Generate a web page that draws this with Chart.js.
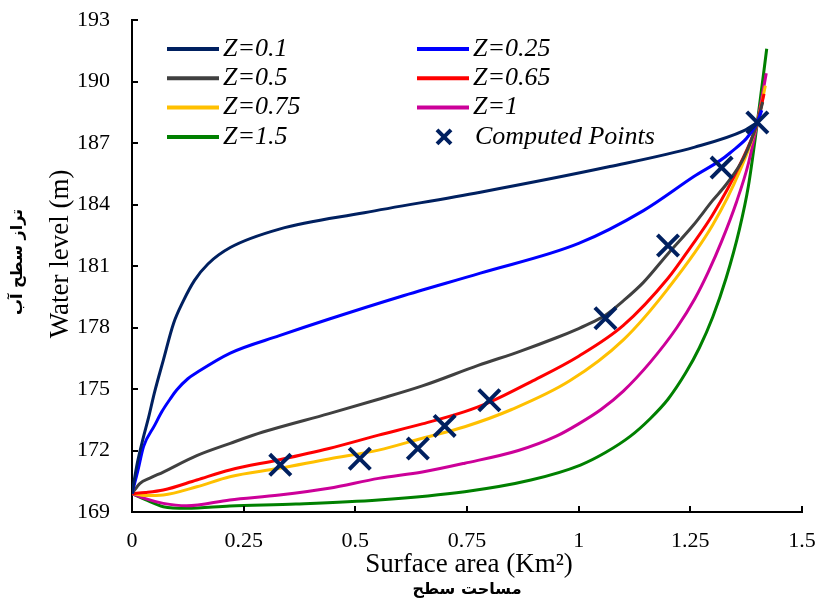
<!DOCTYPE html>
<html>
<head>
<meta charset="utf-8">
<script src="https://cdn.jsdelivr.net/npm/chart.js@4.4.0/dist/chart.umd.min.js"></script>
<style>
  html, body { margin: 0; padding: 0; background: #fff; }
  #wrap { width: 821px; height: 601px; position: relative; }
</style>
</head>
<body>
<div id="wrap"><canvas id="chart"></canvas></div>
<script>
// values (x = surface area km2, y = water level m)
const z01X = [0, 0.012, 0.025, 0.037, 0.05, 0.07, 0.093, 0.115, 0.14, 0.17, 0.22, 0.33, 0.52, 0.78, 1.07, 1.26, 1.37, 1.40];
const z01Y = [169.9, 171.4, 172.6, 173.6, 174.8, 176.4, 178.2, 179.3, 180.3, 181.1, 181.9, 182.8, 183.6, 184.6, 185.85, 186.8, 187.6, 188.0];

const z025X = [0, 0.013, 0.026, 0.05, 0.067, 0.085, 0.1, 0.125, 0.145, 0.22, 0.33, 0.44, 0.6, 0.78, 1.0, 1.145, 1.257, 1.338, 1.40, 1.41];
const z025Y = [169.9, 171.0, 172.2, 173.2, 173.9, 174.5, 174.95, 175.5, 175.8, 176.75, 177.6, 178.4, 179.5, 180.65, 182.1, 183.7, 185.35, 186.5, 188.0, 188.6];

const z05X = [0, 0.018, 0.04, 0.07, 0.145, 0.22, 0.293, 0.441, 0.552, 0.65, 0.775, 0.87, 0.95, 1.0, 1.03, 1.06, 1.1, 1.145, 1.2, 1.257, 1.3, 1.331, 1.37, 1.40, 1.412];
const z05Y = [169.9, 170.4, 170.65, 170.95, 171.75, 172.35, 172.9, 173.8, 174.5, 175.15, 176.15, 176.85, 177.5, 177.95, 178.25, 178.6, 179.3, 180.2, 181.6, 183.0, 184.2, 185.0, 186.3, 188.0, 189.0];

const z065X = [0, 0.03, 0.07, 0.145, 0.219, 0.33, 0.441, 0.552, 0.65, 0.745, 0.8, 0.893, 1.0, 1.1, 1.2, 1.25, 1.3, 1.36, 1.40, 1.415];
const z065Y = [169.9, 169.95, 170.07, 170.56, 171.05, 171.55, 172.1, 172.75, 173.3, 173.9, 174.35, 175.35, 176.6, 178.1, 180.4, 181.9, 183.5, 185.9, 188.0, 189.4];

const z075X = [0, 0.03, 0.07, 0.145, 0.219, 0.33, 0.441, 0.552, 0.65, 0.745, 0.85, 0.98, 1.1, 1.2, 1.3, 1.36, 1.40, 1.418];
const z075Y = [169.9, 169.8, 169.83, 170.23, 170.72, 171.13, 171.59, 172.02, 172.6, 173.16, 174.0, 175.4, 177.4, 179.9, 183.0, 185.6, 188.0, 189.8];

const z1X = [0, 0.03, 0.07, 0.122, 0.219, 0.33, 0.441, 0.552, 0.65, 0.745, 0.865, 0.95, 1.0, 1.05, 1.1, 1.16, 1.22, 1.26, 1.29, 1.32, 1.353, 1.38, 1.40, 1.42];
const z1Y = [169.9, 169.65, 169.42, 169.3, 169.59, 169.83, 170.16, 170.64, 170.95, 171.38, 172.0, 172.7, 173.3, 174.0, 174.9, 176.3, 178.0, 179.4, 180.7, 182.2, 184.1, 186.0, 188.0, 190.4];

const z15X = [0, 0.03, 0.07, 0.122, 0.219, 0.367, 0.552, 0.745, 0.893, 1.004, 1.06, 1.116, 1.16, 1.2, 1.24, 1.27, 1.3, 1.33, 1.36, 1.38, 1.40, 1.421];
const z15Y = [169.9, 169.6, 169.26, 169.18, 169.29, 169.39, 169.59, 169.99, 170.56, 171.29, 171.9, 172.7, 173.55, 174.5, 175.8, 177.0, 178.5, 180.4, 182.8, 184.9, 188.0, 191.6];

const pointsX = [0.332, 0.51, 0.64, 0.70, 0.80, 1.06, 1.20, 1.32, 1.40];
const pointsY = [171.3, 171.6, 172.1, 173.2, 174.45, 178.45, 182.0, 185.8, 188.0];

const xTicks = [0, 0.25, 0.5, 0.75, 1, 1.25, 1.5];
const yTicks = [169, 172, 175, 178, 181, 184, 187, 190, 193];

const curves = [
  { label: "Z=0.1",  color: "#002060", x: z01X,  y: z01Y },
  { label: "Z=0.25", color: "#0000ff", x: z025X, y: z025Y },
  { label: "Z=0.5",  color: "#404040", x: z05X,  y: z05Y },
  { label: "Z=0.65", color: "#ff0000", x: z065X, y: z065Y },
  { label: "Z=0.75", color: "#ffc000", x: z075X, y: z075Y },
  { label: "Z=1",    color: "#cc0099", x: z1X,   y: z1Y },
  { label: "Z=1.5",  color: "#008000", x: z15X,  y: z15Y }
];

const toXY = (xs, ys) => xs.map((x, i) => ({ x, y: ys[i] }));

const datasets = curves.map(c => ({
  label: c.label,
  data: toXY(c.x, c.y),
  borderColor: c.color,
  backgroundColor: c.color,
  borderWidth: 3,
  pointRadius: 0,
  fill: false,
  cubicInterpolationMode: "monotone",
  order: 1
}));

datasets.push({
  type: "scatter",
  label: "Computed Points",
  data: toXY(pointsX, pointsY),
  borderColor: "#002060",
  backgroundColor: "#002060",
  pointStyle: "crossRot",
  pointRadius: 15,
  pointBorderWidth: 4,
  showLine: false,
  order: 0
});

const serif = "'Liberation Serif', 'Times New Roman', serif";
const arabic = "'DejaVu Sans', sans-serif";

// legend in two columns inside the plot, inward ticks, axis titles
const decor = {
  id: "decor",
  afterDraw(chart) {
    const { ctx, chartArea: a, scales } = chart;
    ctx.save();

    // inward tick marks
    ctx.strokeStyle = "#000";
    ctx.lineWidth = 2;
    ctx.beginPath();
    xTicks.forEach(v => {
      const px = Math.round(scales.x.getPixelForValue(v));
      ctx.moveTo(px, a.bottom);
      ctx.lineTo(px, a.bottom - 6);
    });
    yTicks.forEach(v => {
      const py = Math.round(scales.y.getPixelForValue(v));
      ctx.moveTo(a.left, py);
      ctx.lineTo(a.left + 6, py);
    });
    ctx.stroke();

    // legend
    const colX = [a.left + 35, a.left + 285];
    ctx.font = "italic 26px " + serif;
    ctx.textBaseline = "middle";
    ctx.fillStyle = "#000";
    chart.data.datasets.forEach((ds, i) => {
      const x0 = colX[i % 2];
      const y0 = a.top + 29 + Math.floor(i / 2) * 29.3;
      ctx.strokeStyle = ds.borderColor;
      ctx.lineWidth = 4;
      ctx.beginPath();
      if (ds.pointStyle === "crossRot") {
        const cx = x0 + 27, r = 7;
        ctx.moveTo(cx - r, y0 - r); ctx.lineTo(cx + r, y0 + r);
        ctx.moveTo(cx - r, y0 + r); ctx.lineTo(cx + r, y0 - r);
        ctx.stroke();
        ctx.fillText(ds.label, x0 + 58, y0);
      } else {
        ctx.moveTo(x0, y0); ctx.lineTo(x0 + 52, y0);
        ctx.stroke();
        ctx.fillText(ds.label, x0 + 56, y0);
      }
    });

    // axis titles
    ctx.textAlign = "center";
    ctx.font = "27px " + serif;
    ctx.fillText("Surface area (Km²)", a.left + 337, a.bottom + 53);
    ctx.font = "bold 16px " + arabic;
    ctx.fillText("مساحت سطح", a.left + 335, a.bottom + 78);

    ctx.translate(a.left - 71, a.top + 234);
    ctx.rotate(-Math.PI / 2);
    ctx.font = "27px " + serif;
    ctx.fillText("Water level (m)", 0, 0);
    ctx.font = "bold 16px " + arabic;
    ctx.fillText("تراز سطح آب", -8, -43);
    ctx.restore();
  }
};

// no extra room for half-labels at the ends of the axes
const noEdgePad = s => {
  s.paddingTop = 0; s.paddingBottom = 0; s.paddingLeft = 0; s.paddingRight = 0;
};

new Chart(document.getElementById("chart"), {
  type: "line",
  data: { datasets },
  options: {
    responsive: true,
    maintainAspectRatio: false,
    animation: false,
    layout: { padding: { left: 0, right: 15, top: 20, bottom: 0 } },
    plugins: { legend: { display: false }, tooltip: { enabled: false } },
    scales: {
      x: {
        type: "linear",
        min: 0,
        max: 1.5,
        afterBuildTicks: s => { s.ticks = xTicks.map(v => ({ value: v })); },
        afterFit: s => { s.height = 89; noEdgePad(s); },
        grid: { display: false },
        border: { display: true, color: "#000", width: 2 },
        ticks: {
          padding: 8,
          color: "#000",
          font: { family: serif, size: 22 },
          callback: v => String(+v.toFixed(2))
        }
      },
      y: {
        type: "linear",
        min: 169,
        max: 193,
        afterBuildTicks: s => { s.ticks = yTicks.map(v => ({ value: v })); },
        afterFit: s => { s.width = 132; noEdgePad(s); },
        grid: { display: false },
        border: { display: true, color: "#000", width: 2 },
        ticks: {
          padding: 14,
          color: "#000",
          font: { family: serif, size: 22 },
          callback: v => String(v)
        }
      }
    }
  },
  plugins: [decor]
});
</script>
</body>
</html>
